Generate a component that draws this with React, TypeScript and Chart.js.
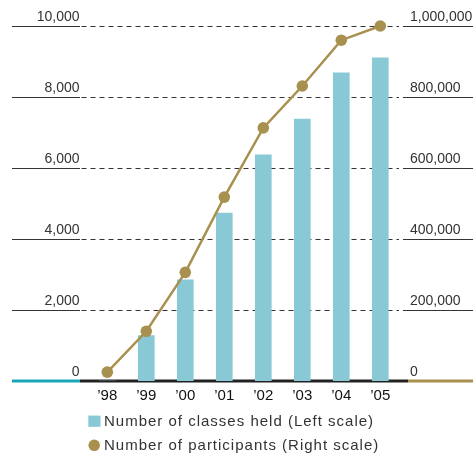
import { useEffect, useRef } from "react";
import { Chart, registerables } from "chart.js";

Chart.register(...registerables);

// Fiscal years on the category axis
const years = ["\u201998", "\u201999", "\u201900", "\u201901", "\u201902", "\u201903", "\u201904", "\u201905"];
// Number of classes held (left scale)
const classesHeld = [0, 1280, 2850, 4730, 6370, 7380, 8680, 9100];
// Number of participants (right scale)
const participants = [25000, 140000, 306000, 518000, 713000, 831000, 960000, 1000000];
// Tick values for both vertical axes
const leftTicks = [0, 2000, 4000, 6000, 8000, 10000];
const rightTicks = [0, 200000, 400000, 600000, 800000, 1000000];
const seriesLabels = ["Number of classes held (Left scale)", "Number of participants (Right scale)"];

const BAR_COLOR = "#88c9d5";
const LINE_COLOR = "#a8904f";
const BASE_TEAL = "#19a5b8";
const GRID_COLOR = "#333333";
const TEXT_COLOR = "#333333";
const FONT = '"Liberation Sans", Arial, Helvetica, sans-serif';

// Horizontal rules: solid under the axis labels, dashed across the plot,
// and a thick three-colour baseline at zero.
const ruleLines = {
  id: "ruleLines",
  beforeDatasetsDraw(chart: any) {
    const { ctx } = chart;
    const y = chart.scales.y;
    const W = chart.width;
    ctx.save();
    y.ticks.forEach((t: any) => {
      const py = y.getPixelForValue(t.value);
      if (t.value === 0) {
        ctx.lineWidth = 3;
        ctx.setLineDash([]);
        const segs: [number, number, string][] = [
          [12, 80, BASE_TEAL],
          [80, 408, "#222222"],
          [408, W, LINE_COLOR],
        ];
        segs.forEach(([a, b, c]) => {
          ctx.strokeStyle = c;
          ctx.beginPath();
          ctx.moveTo(a, py);
          ctx.lineTo(b, py);
          ctx.stroke();
        });
      } else {
        const yy = Math.round(py) + 0.5;
        ctx.lineWidth = 1;
        ctx.strokeStyle = GRID_COLOR;
        ctx.setLineDash([]);
        ctx.beginPath();
        ctx.moveTo(12, yy);
        ctx.lineTo(80, yy);
        ctx.moveTo(403, yy);
        ctx.lineTo(W, yy);
        ctx.stroke();
        ctx.setLineDash([5, 4]);
        ctx.beginPath();
        ctx.moveTo(81.5, yy);
        ctx.lineTo(399, yy);
        ctx.stroke();
      }
    });
    ctx.restore();
  },
};

// Two-row legend below the axis
const legendRows = {
  id: "legendRows",
  afterDraw(chart: any) {
    const { ctx } = chart;
    ctx.save();
    ctx.font = `15px ${FONT}`;
    (ctx as any).letterSpacing = "1px";
    ctx.textBaseline = "middle";
    ctx.textAlign = "left";
    const rows = [421.2, 445.3];
    const textX = 104;
    // square swatch for bars
    ctx.fillStyle = BAR_COLOR;
    ctx.fillRect(88.3, rows[0] - 5.6, 12.2, 11.2);
    // round swatch for the line
    ctx.fillStyle = LINE_COLOR;
    ctx.beginPath();
    ctx.arc(94.2, rows[1], 5.8, 0, Math.PI * 2);
    ctx.fill();
    ctx.fillStyle = TEXT_COLOR;
    chart.data.datasets.forEach((ds: any, i: number) => {
      ctx.fillText(ds.label, textX, rows[i] + 0.5);
    });
    ctx.restore();
  },
};

const fmt = (v: any) => Number(v).toLocaleString("en-US");

export default function App() {
  const ref = useRef<HTMLCanvasElement>(null);

  useEffect(() => {
    document.body.style.margin = "0";
    Chart.defaults.font.family = FONT;
    const chart = new Chart(ref.current as HTMLCanvasElement, {
      type: "bar",
      data: {
        labels: years,
        datasets: [
          {
            type: "bar",
            label: seriesLabels[0],
            data: classesHeld,
            yAxisID: "y",
            backgroundColor: BAR_COLOR,
            borderWidth: 0,
            barThickness: 16,
            order: 2,
          } as any,
          {
            type: "line",
            label: seriesLabels[1],
            data: participants,
            yAxisID: "y1",
            borderColor: LINE_COLOR,
            borderWidth: 2.5,
            pointRadius: 5.8,
            pointBackgroundColor: LINE_COLOR,
            pointBorderWidth: 0,
            tension: 0,
            clip: false,
            order: 1,
          } as any,
        ],
      },
      options: {
        responsive: false,
        maintainAspectRatio: false,
        devicePixelRatio: 1,
        animation: false,
        layout: { padding: { top: 26, bottom: 50, left: 0, right: 0 } },
        plugins: {
          legend: { display: false },
          tooltip: { enabled: false },
        },
        scales: {
          x: {
            type: "category",
            offset: true,
            grid: { display: false, drawTicks: false },
            border: { display: false },
            ticks: {
              color: "#111111",
              font: { size: 15, family: FONT },
              padding: 6,
              maxRotation: 0,
              autoSkip: false,
            },
            afterFit: (s: any) => {
              s.height = 22;
            },
          },
          y: {
            position: "left",
            min: 0,
            max: 10000,
            afterBuildTicks: (s: any) => {
              s.ticks = leftTicks.map((v) => ({ value: v }));
            },
            grid: { display: false, drawTicks: false },
            border: { display: false },
            ticks: {
              callback: fmt,
              padding: 8.3,
              labelOffset: -8.5,
              color: TEXT_COLOR,
              font: { size: 14 },
            },
            afterFit: (s: any) => {
              s.width = 87.8;
            },
          },
          y1: {
            position: "right",
            min: 0,
            max: 1000000,
            afterBuildTicks: (s: any) => {
              s.ticks = rightTicks.map((v) => ({ value: v }));
            },
            grid: { display: false, drawTicks: false },
            border: { display: false },
            ticks: {
              callback: fmt,
              padding: 10.2,
              labelOffset: -8.5,
              color: TEXT_COLOR,
              font: { size: 14 },
            },
            afterFit: (s: any) => {
              s.width = 73.2;
            },
          },
        },
      } as any,
      plugins: [ruleLines, legendRows],
    });
    return () => chart.destroy();
  }, []);

  return (
    <div style={{ width: 473, height: 453 }}>
      <canvas ref={ref} width={473} height={453} style={{ display: "block" }} />
    </div>
  );
}
